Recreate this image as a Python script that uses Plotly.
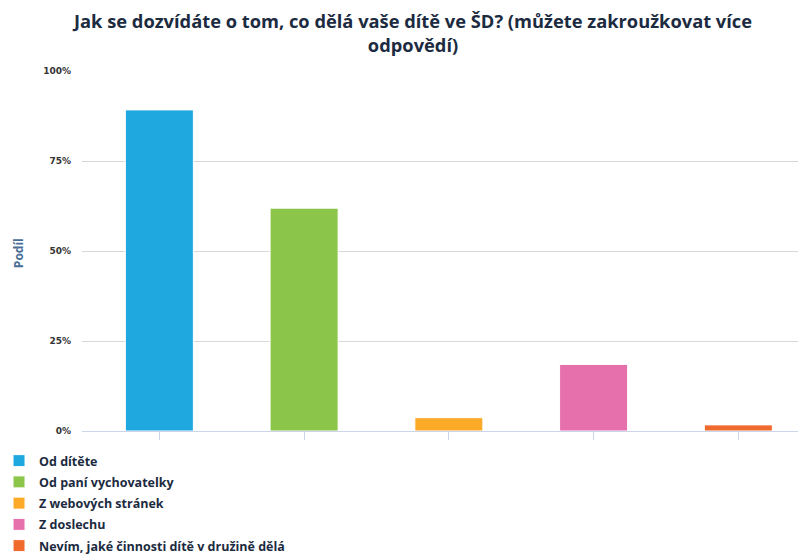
import plotly.graph_objects as go

categories = ["Od dítěte", "Od paní vychovatelky", "Z webových stránek", "Z doslechu",
              "Nevím, jaké činnosti dítě v družině dělá"]
values = [0.892, 0.619, 0.037, 0.185, 0.017]
colors = ["#1fa8e0", "#8bc54a", "#fcaa27", "#e670ab", "#f0692d"]
tick_vals = [0, 0.25, 0.5, 0.75, 1.0]
tick_text = ["0%", "25%", "50%", "75%", "100%"]
title_text = "Jak se dozvídáte o tom, co dělá vaše dítě ve ŠD? (můžete zakroužkovat více<br>odpovědí)"
y_title = "Podíl"

fig = go.Figure()
for c, v, col in zip(categories, values, colors):
    fig.add_trace(go.Bar(x=[c], y=[v], name=c, marker=dict(color=col, line=dict(color="white", width=1)),
                         width=0.47, legendgroup=c))

fig.add_annotation(text=title_text, xref="paper", yref="paper", x=0.456, y=1.106,
                   xanchor="center", yanchor="middle", showarrow=False, align="center",
                   font=dict(family="Open Sans", size=18.3, color="#1c2b3f", weight="bold"))
fig.add_annotation(text=y_title, xref="paper", yref="paper", x=-0.0884, y=0.494,
                   xanchor="center", yanchor="middle", showarrow=False, textangle=-90,
                   font=dict(family="Open Sans", size=12, color="#4a6f96", weight="bold"))

fig.update_layout(
    width=798, height=549,
    barmode="overlay",
    plot_bgcolor="white", paper_bgcolor="white",
    margin=dict(l=74, r=0, t=63, b=126, autoexpand=False),
    showlegend=True,
    legend=dict(orientation="v", x=-0.1146, y=-0.0417,
                xanchor="left", yanchor="top", traceorder="grouped", tracegroupgap=2,
                font=dict(family="Open Sans", size=12.5, color="#1c2b3f", weight="bold"),
                itemclick=False),
    xaxis=dict(showticklabels=False, showline=True, linecolor="#ccd6eb", linewidth=1,
               ticks="outside", tickcolor="#ccd6eb", ticklen=8, showgrid=False,
               range=[-0.5345, 4.4675],
               categoryorder="array", categoryarray=categories),
    yaxis=dict(range=[0, 1.0], tickvals=tick_vals, ticktext=tick_text, showgrid=True,
               gridcolor="#d8d8d8", gridwidth=1, zeroline=False,
               tickfont=dict(family="DejaVu Sans", size=9, color="#333333", weight="bold"),
               ticklabelstandoff=10),
)

fig.write_html("out.html")
